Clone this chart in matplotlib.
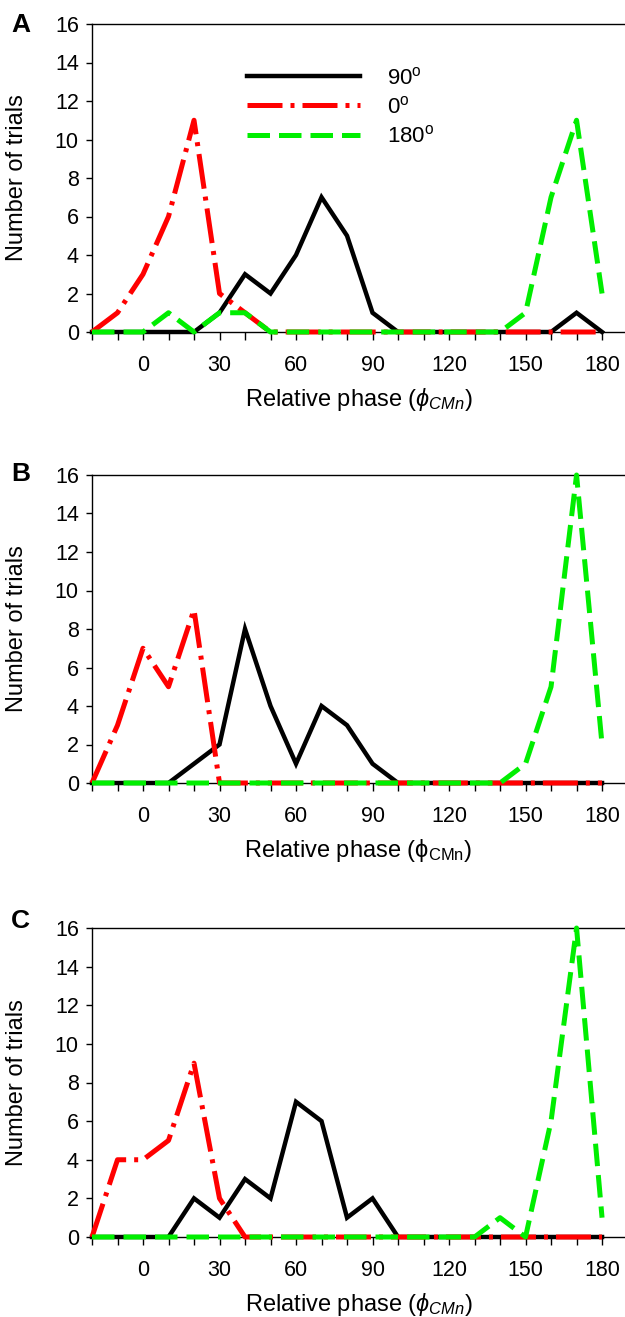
import numpy as np
import matplotlib
matplotlib.use('Agg')
import matplotlib.pyplot as plt
from matplotlib.ticker import MultipleLocator, FixedLocator

# ---- 字体设置 ----
plt.rcParams['font.family'] = ['Liberation Sans', 'DejaVu Sans']
plt.rcParams['mathtext.fontset'] = 'custom'
plt.rcParams['mathtext.rm'] = 'Liberation Sans'
plt.rcParams['mathtext.it'] = 'Liberation Sans:italic'
plt.rcParams['mathtext.fallback'] = 'stixsans'

# ---- 数据 ----
phase = [-20, -10, 0, 10, 20, 30, 40, 50, 60, 70, 80, 90, 100, 110, 120, 130, 140, 150, 160, 170, 180]

a_90 = [0, 0, 0, 0, 0, 1, 3, 2, 4, 7, 5, 1, 0, 0, 0, 0, 0, 0, 0, 1, 0]
a_0 = [0, 1, 3, 6, 11, 2, 1, 0, 0, 0, 0, 0, 0, 0, 0, 0, 0, 0, 0, 0, 0]
a_180 = [0, 0, 0, 1, 0, 1, 1, 0, 0, 0, 0, 0, 0, 0, 0, 0, 0, 1, 7, 11, 2]

b_90 = [0, 0, 0, 0, 1, 2, 8, 4, 1, 4, 3, 1, 0, 0, 0, 0, 0, 0, 0, 0, 0]
b_0 = [0, 3, 7, 5, 9, 0, 0, 0, 0, 0, 0, 0, 0, 0, 0, 0, 0, 0, 0, 0, 0]
b_180 = [0, 0, 0, 0, 0, 0, 0, 0, 0, 0, 0, 0, 0, 0, 0, 0, 0, 1, 5, 16, 2]

c_90 = [0, 0, 0, 0, 2, 1, 3, 2, 7, 6, 1, 2, 0, 0, 0, 0, 0, 0, 0, 0, 0]
c_0 = [0, 4, 4, 5, 9, 2, 0, 0, 0, 0, 0, 0, 0, 0, 0, 0, 0, 0, 0, 0, 0]
c_180 = [0, 0, 0, 0, 0, 0, 0, 0, 0, 0, 0, 0, 0, 0, 0, 0, 1, 0, 6, 16, 1]

panels = [
    ('A', a_90, a_0, a_180, r'Relative phase ($\phi_{CMn}$)'),
    ('B', b_90, b_0, b_180, r'Relative phase ($\mathrm{\phi}_{\mathrm{CMn}}$)'),
    ('C', c_90, c_0, c_180, r'Relative phase ($\phi_{CMn}$)'),
]
legend_labels = [r'90$^\mathrm{o}$', r'0$^\mathrm{o}$', r'180$^\mathrm{o}$']

# ---- 画布 ----
fig = plt.figure(figsize=(6.25, 13.17), dpi=100)
W, H = 625.0, 1317.0
ax_rects = [(24, 332), (475, 783), (928, 1237)]   # 像素 top/bottom
letter_y = [25, 474, 921]
left_px = 92

for (letter, s90, s0, s180, xlab), (top_px, bot_px), ly in zip(panels, ax_rects, letter_y):
    ax = fig.add_axes([left_px / W, 1 - bot_px / H, (W - left_px) / W, (bot_px - top_px) / H])

    ax.plot(phase, s90, color='black', linewidth=3.2, linestyle='-', label=legend_labels[0],
            solid_joinstyle='miter', clip_on=False, zorder=3)
    ax.plot(phase, s0, color='#ff0000', linewidth=3.6, linestyle=(0, (7, 1.6, 0.8, 1.6)),
            label=legend_labels[1], clip_on=False, zorder=4)
    ax.plot(phase, s180, color='#00ee00', linewidth=3.6, linestyle=(0, (4.5, 1.8)),
            label=legend_labels[2], clip_on=False, zorder=5)

    ax.set_xlim(-20, 189)
    ax.set_ylim(0, 16)

    # ---- 坐标轴 ----
    ax.spines['right'].set_visible(False)
    for sp in ['left', 'bottom', 'top']:
        ax.spines[sp].set_linewidth(1.0)
    ax.xaxis.set_major_locator(FixedLocator([0, 30, 60, 90, 120, 150, 180]))
    ax.xaxis.set_minor_locator(FixedLocator([-20, -10, 10, 20, 40, 50, 70, 80, 100, 110, 130, 140, 160, 170]))
    ax.yaxis.set_major_locator(MultipleLocator(2))
    ax.tick_params(axis='x', which='both', direction='out', length=6, width=1, labelsize=15.5, pad=10.5)
    ax.tick_params(axis='y', which='major', direction='out', length=4.5, width=1, labelsize=15.5, pad=5)
    ax.tick_params(top=False, right=False)

    ax.set_xlabel(xlab, fontsize=17, labelpad=7)
    ax.set_ylabel('Number of trials', fontsize=17)
    ax.yaxis.set_label_coords(-(92 - 28) / (W - left_px), 0.5)

    fig.text(11 / W, 1 - ly / H, letter, fontsize=19, fontweight='bold', va='center', ha='left')

    if letter == 'A':
        ax.legend(loc='upper left', bbox_to_anchor=(0.291, 0.86), frameon=False, fontsize=16,
                  handlelength=5.1, handletextpad=1.2, labelspacing=0.32, borderpad=0, borderaxespad=0)

fig.savefig('out.png', dpi=100)
plt.close()
